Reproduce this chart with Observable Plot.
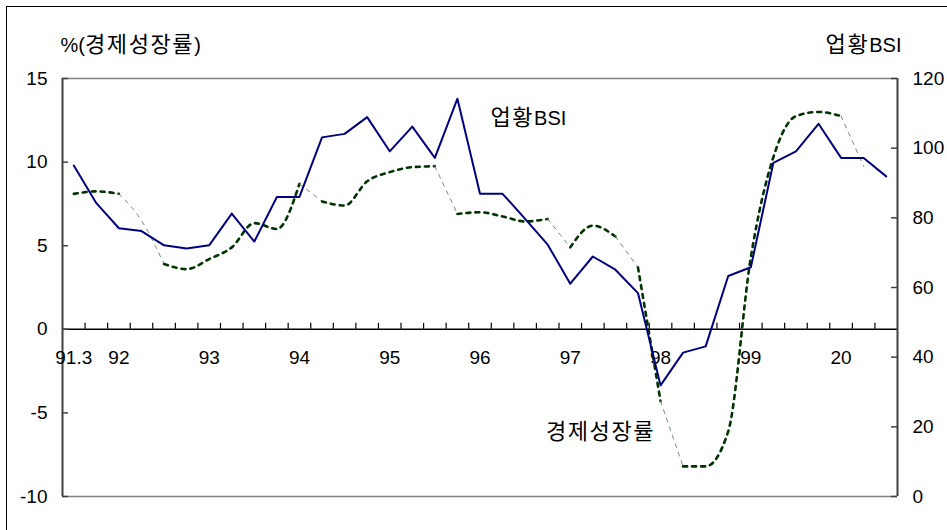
<!DOCTYPE html>
<html><head><meta charset="utf-8">
<script src="https://cdn.jsdelivr.net/npm/d3@7"></script>
<script src="https://cdn.jsdelivr.net/npm/@observablehq/plot@0.6"></script>
<style>
html,body{margin:0;padding:0;background:#fff;overflow:hidden}
#wrap{position:relative;width:947px;height:530px;overflow:hidden}
#frame{position:absolute;left:6px;top:6px;width:1000px;height:600px;border-left:1.5px solid #000;border-top:1.5px solid #000;}
#chart{position:absolute;left:0;top:0}
</style></head><body>
<div id="wrap"><div id="frame"></div><div id="chart"></div></div>
<script>
// Quarterly categories (91.3 = 1991 Q3 ... 00.3 = 2000 Q3)
const quarters = ["91.3","91.4",
  "92.1","92.2","92.3","92.4","93.1","93.2","93.3","93.4",
  "94.1","94.2","94.3","94.4","95.1","95.2","95.3","95.4",
  "96.1","96.2","96.3","96.4","97.1","97.2","97.3","97.4",
  "98.1","98.2","98.3","98.4","99.1","99.2","99.3","99.4",
  "00.1","00.2","00.3"];
// 업황BSI (right axis)
const bsi = [95.0, 84.2, 77.0, 76.2, 72.1, 71.2, 72.1, 81.2, 73.2, 86.0,
  86.0, 103.1, 104.1, 108.9, 99.1, 106.2, 97.2, 114.2, 86.9, 86.9,
  79.7, 72.3, 61.1, 68.9, 65.1, 58.4, 31.9, 41.3, 43.1, 63.3,
  65.8, 95.8, 99.1, 107.0, 97.2, 97.2, 91.9];
// 경제성장률 % (left axis)
const gdp = [8.1, 8.25, 8.1, 6.5, 3.9, 3.6, 4.2, 4.9, 6.35, 6.0,
  8.7, 7.65, 7.4, 8.85, 9.4, 9.7, 9.75, 6.9, 7.0, 6.75,
  6.45, 6.6, 4.9, 6.2, 5.55, 3.7, -4.3, -8.2, -8.2, -6.1,
  4.3, 10.3, 12.75, 13.0, 12.75, 9.75];
// axis ticks and labels
const leftTicks = [-10, -5, 0, 5, 10, 15];
const rightTicks = [0, 20, 40, 60, 80, 100, 120];
const xLabelAt = ["91.3","92.1","93.1","94.1","95.1","96.1","97.1","98.1","99.1","00.1"];
const xLabelText = ["91.3","92","93","94","95","96","97","98","99","20"];

const L = [-10, 15], R = [0, 120];
const toY = b => L[0] + (b - R[0]) * (L[1] - L[0]) / (R[1] - R[0]);
const n = quarters.length;
const bsiData = bsi.map((v, i) => ({i, v}));
// the dotted line renders faint on moderately falling stretches in the original
const gdpData = gdp.map((v, i) => {
  const drop = i < gdp.length - 1 ? v - gdp[i + 1] : 0;
  return {i, v, faint: drop >= 1 && drop <= 4};
});
const latin = "'Liberation Sans', Arial, sans-serif";
const font = "'Liberation Sans', Arial, 'Noto Sans CJK KR', sans-serif";

const chart = Plot.plot({
  width: 947, height: 530,
  marginLeft: 62, marginRight: 50, marginTop: 78, marginBottom: 34,
  x: {domain: [0, n], axis: null},
  y: {domain: L, axis: null},
  style: {fontFamily: font, fontSize: "19px", color: "#000", background: "transparent"},
  marks: [
    Plot.ruleY([L[1], L[0]], {stroke: "#808080", strokeWidth: 1.5}),
    Plot.ruleY([0], {stroke: "#000", strokeWidth: 1.5}),
    Plot.ruleX([0, n], {stroke: "#404040", strokeWidth: 2}),
    // inward ticks, left axis
    Plot.ruleY(leftTicks, {y: d => d, x1: 0, x2: 0, insetRight: -6, stroke: "#404040", strokeWidth: 1.5}),
    // inward ticks, right axis
    Plot.ruleY(rightTicks, {y: d => toY(d), x1: n, x2: n, insetLeft: -6, stroke: "#404040", strokeWidth: 1.5}),
    // category ticks on zero line
    Plot.ruleX(d3.range(1, n), {x: d => d, y1: 0, y2: 0, insetTop: -6, stroke: "#000", strokeWidth: 1.2}),
    Plot.text(leftTicks, {x: 0, y: d => d, dx: -15, textAnchor: "end", text: d => String(d), fill: "#000"}),
    Plot.text(rightTicks, {x: n, y: d => toY(d), dx: 15, textAnchor: "start", text: d => String(d), fill: "#000"}),
    Plot.text(xLabelText, {x: (d, i) => quarters.indexOf(xLabelAt[i]) + 0.5, y: 0, dy: 29, text: d => d, fill: "#000"}),
    // series
    Plot.line(gdpData, {x: d => d.i + 0.5, y: d => d.v, z: null, curve: "monotone-x",
      stroke: d => d.faint ? "#6f8f6f" : "#003300", strokeWidth: d => d.faint ? 1 : 2.6, strokeDasharray: "4,5"}),
    Plot.line(bsiData, {x: d => d.i + 0.5, y: d => toY(d.v), stroke: "#000080", strokeWidth: 2}),
    // series annotations anchored to data points
    Plot.text([bsiData[17]], {x: d => d.i + 0.5, y: d => toY(d.v), dx: 33, dy: 20, textAnchor: "start", text: () => "업황BSI", fill: "#000"}),
    Plot.text([gdpData[27]], {x: d => d.i + 0.5, y: d => d.v, dx: -28, dy: -33, textAnchor: "end", text: () => "경제성장률", fill: "#000"}),
    // axis titles
    Plot.text(["%(경제성장률)"], {frameAnchor: "top-left", dx: -2, dy: -40, textAnchor: "start", fill: "#000"}),
    Plot.text(["업황BSI"], {frameAnchor: "top-right", dx: 4, dy: -40, textAnchor: "end", fill: "#000"})
  ]
});
// Hangul runs are set slightly larger and wider, as in the original figure
chart.querySelectorAll("text").forEach(t => {
  const s = t.textContent;
  if (!/[\uac00-\ud7a3]/.test(s) || t.children.length) return;
  const runs = s.match(/[\uac00-\ud7a3]+|[^\uac00-\ud7a3]+/g);
  t.textContent = "";
  runs.forEach(r => {
    const sp = document.createElementNS("http://www.w3.org/2000/svg", "tspan");
    sp.textContent = r;
    if (/[\uac00-\ud7a3]/.test(r)) {
      sp.setAttribute("font-size", "22px");
      sp.setAttribute("letter-spacing", "1.6px");
      sp.setAttribute("font-family", "'Noto Sans CJK KR', sans-serif");
    } else {
      sp.setAttribute("font-size", "20px");
      sp.setAttribute("font-family", latin);
    }
    t.appendChild(sp);
  });
});
document.getElementById("chart").appendChild(chart);
</script>
</body></html>
